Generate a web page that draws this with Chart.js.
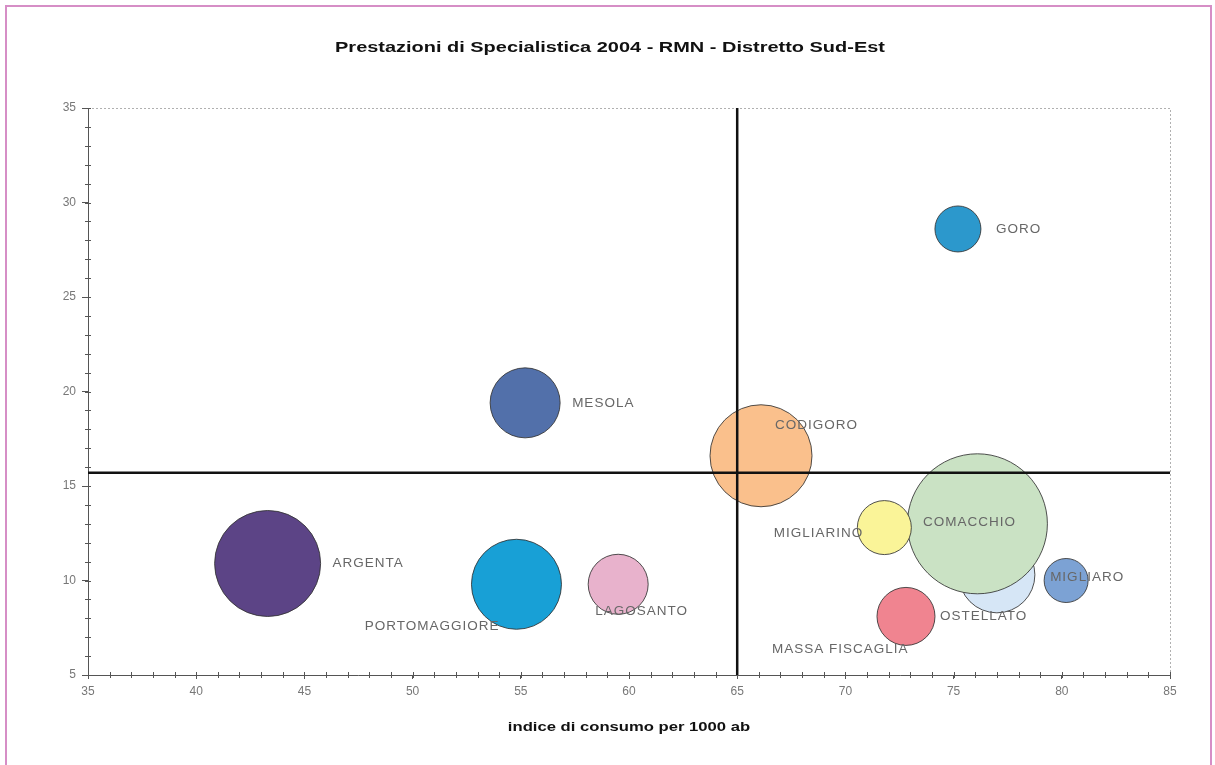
<!DOCTYPE html>
<html lang="it">
<head>
<meta charset="utf-8">
<title>Prestazioni di Specialistica 2004 - RMN - Distretto Sud-Est</title>
<script src="https://cdn.jsdelivr.net/npm/chart.js@4/dist/chart.umd.min.js"></script>
<style>
  html, body { margin: 0; padding: 0; background: #fff; }
  canvas { display: block; }
</style>
</head>
<body>
<canvas id="grafico" width="1215" height="765"></canvas>
<script>
(() => {
  'use strict'

  // Comuni del distretto
  const comuni = [
    'ARGENTA',
    'PORTOMAGGIORE',
    'MESOLA',
    'LAGOSANTO',
    'CODIGORO',
    'GORO',
    'MASSA FISCAGLIA',
    'OSTELLATO',
    'COMACCHIO',
    'MIGLIARINO',
    'MIGLIARO'
  ]
  // indice di consumo per 1000 ab (asse x)
  const consumo = [43.3, 54.8, 55.2, 59.5, 66.1, 75.2, 72.8, 77.0, 76.1, 71.8, 80.2]
  // asse y
  const valori = [10.9, 9.8, 19.4, 9.8, 16.6, 28.6, 8.1, 10.3, 13.0, 12.8, 10.0]
  // dimensione bolla
  const dimensioni = [53, 45, 35, 30, 51, 23, 29, 38, 70, 27, 22]

  // linee di riferimento (medie)
  const mediaX = 65
  const mediaY = 15.7

  const xTicks = [35, 40, 45, 50, 55, 60, 65, 70, 75, 80, 85]
  const yTicks = [5, 10, 15, 20, 25, 30, 35]

  const titolo = 'Prestazioni di Specialistica 2004 - RMN - Distretto Sud-Est'
  const titoloX = 'indice di consumo per 1000 ab'

  const colori = [
    'rgb(92, 68, 134)',
    'rgb(24, 160, 214)',
    'rgb(82, 112, 170)',
    'rgb(232, 178, 204)',
    'rgb(250, 192, 140)',
    'rgb(44, 152, 204)',
    'rgb(240, 132, 144)',
    'rgb(214, 230, 246)',
    'rgb(202, 226, 196)',
    'rgb(250, 244, 152)',
    'rgb(124, 162, 212)'
  ]

  // posizione delle etichette rispetto al centro della bolla
  const etichette = [
    { dx: 65, dy: 0, align: 'left' },
    { dx: -17, dy: 42, align: 'right' },
    { dx: 47, dy: 0, align: 'left' },
    { dx: -23, dy: 27, align: 'left' },
    { dx: 14, dy: -30, align: 'left' },
    { dx: 38, dy: 0, align: 'left' },
    { dx: -134, dy: 33, align: 'left' },
    { dx: -57, dy: 41, align: 'left' },
    { dx: -8, dy: -2, align: 'center' },
    { dx: -21, dy: 6, align: 'right' },
    { dx: -16, dy: -3, align: 'left' }
  ]

  const FONT = '"Liberation Sans", Arial, sans-serif'

  // testo allargato in orizzontale
  function testoLargo(ctx, text, x, y, font, scala) {
    ctx.save()
    ctx.font = font
    ctx.fillStyle = '#111'
    ctx.textAlign = 'center'
    ctx.textBaseline = 'middle'
    ctx.translate(x, y)
    ctx.scale(scala, 1)
    ctx.fillText(text, 0, 0)
    ctx.restore()
  }

  const cornice = {
    id: 'cornice',
    beforeDraw(chart) {
      const { ctx, width } = chart
      ctx.save()
      ctx.strokeStyle = 'rgb(214, 142, 198)'
      ctx.lineWidth = 2
      ctx.beginPath()
      ctx.moveTo(6, chart.height)
      ctx.lineTo(6, 6)
      ctx.lineTo(width - 4, 6)
      ctx.lineTo(width - 4, chart.height)
      ctx.stroke()
      ctx.restore()
    },
    afterDraw(chart) {
      const a = chart.chartArea
      testoLargo(chart.ctx, titolo, 610, 48, 'bold 15px ' + FONT, 1.33)
      testoLargo(chart.ctx, titoloX, (a.left + a.right) / 2, 727, 'bold 13px ' + FONT, 1.28)
    }
  }

  // bordo tratteggiato in alto e a destra, tacche minori sugli assi
  const assi = {
    id: 'assi',
    beforeDatasetsDraw(chart) {
      const { ctx, chartArea: a, scales } = chart
      ctx.save()
      ctx.strokeStyle = '#b0b0b0'
      ctx.lineWidth = 1
      ctx.setLineDash([2, 2])
      ctx.beginPath()
      ctx.moveTo(a.left, a.top + 0.5)
      ctx.lineTo(a.right + 0.5, a.top + 0.5)
      ctx.lineTo(a.right + 0.5, a.bottom)
      ctx.stroke()
      ctx.setLineDash([])

      ctx.strokeStyle = '#555'
      ctx.beginPath()
      for (let v = 35; v <= 85; v++) {
        const px = Math.round(scales.x.getPixelForValue(v)) + 0.5
        ctx.moveTo(px, a.bottom - 3)
        ctx.lineTo(px, a.bottom + 3)
      }
      for (let v = 5; v <= 35; v++) {
        const py = Math.round(scales.y.getPixelForValue(v)) + 0.5
        ctx.moveTo(a.left - 3, py)
        ctx.lineTo(a.left + 3, py)
      }
      ctx.stroke()
      ctx.restore()
    }
  }

  const riferimenti = {
    id: 'riferimenti',
    afterDatasetsDraw(chart) {
      const { ctx, chartArea: a, scales } = chart
      const px = scales.x.getPixelForValue(mediaX)
      const py = scales.y.getPixelForValue(mediaY)
      ctx.save()
      ctx.strokeStyle = '#111'
      ctx.lineWidth = 2.5
      ctx.beginPath()
      ctx.moveTo(px, a.top)
      ctx.lineTo(px, a.bottom)
      ctx.moveTo(a.left, py)
      ctx.lineTo(a.right, py)
      ctx.stroke()

      // nomi dei comuni
      const punti = chart.getDatasetMeta(0).data
      ctx.fillStyle = '#676767'
      ctx.font = '13.5px ' + FONT
      ctx.letterSpacing = '1px'
      ctx.textBaseline = 'middle'
      punti.forEach((p, i) => {
        const e = etichette[i]
        ctx.textAlign = e.align
        ctx.fillText(comuni[i], p.x + e.dx, p.y + e.dy)
      })
      ctx.restore()
    }
  }

  const ctx = document.getElementById('grafico')
  // eslint-disable-next-line no-unused-vars
  const grafico = new Chart(ctx, {
    type: 'bubble',
    data: {
      labels: comuni,
      datasets: [{
        label: 'RMN',
        data: comuni.map((c, i) => ({ x: consumo[i], y: valori[i], r: dimensioni[i] })),
        backgroundColor: colori,
        borderColor: 'rgba(50, 50, 50, 0.85)',
        borderWidth: 1
      }]
    },
    options: {
      responsive: false,
      animation: false,
      events: [],
      layout: {
        autoPadding: false,
        padding: { top: 108, left: 0, right: 45, bottom: 30 }
      },
      plugins: {
        legend: { display: false },
        tooltip: { enabled: false },
        title: { display: false }
      },
      scales: {
        x: {
          type: 'linear',
          min: 35,
          max: 85,
          afterBuildTicks: (s) => { s.ticks = xTicks.map(v => ({ value: v })) },
          afterFit: (s) => { s.height = 60 },
          border: { display: true, color: '#555', width: 1 },
          grid: { display: true, drawOnChartArea: false, drawTicks: true, tickLength: 4, color: '#555' },
          ticks: {
            color: '#777',
            padding: 5,
            maxRotation: 0,
            font: { family: FONT, size: 12 }
          }
        },
        y: {
          type: 'linear',
          min: 5,
          max: 35,
          afterBuildTicks: (s) => { s.ticks = yTicks.map(v => ({ value: v })) },
          afterFit: (s) => { s.width = 88 },
          border: { display: true, color: '#555', width: 1 },
          grid: { display: true, drawOnChartArea: false, drawTicks: true, tickLength: 6, color: '#555' },
          ticks: {
            color: '#777',
            padding: 6,
            font: { family: FONT, size: 12 }
          }
        }
      }
    },
    plugins: [cornice, assi, riferimenti]
  })
})()
</script>
</body>
</html>
